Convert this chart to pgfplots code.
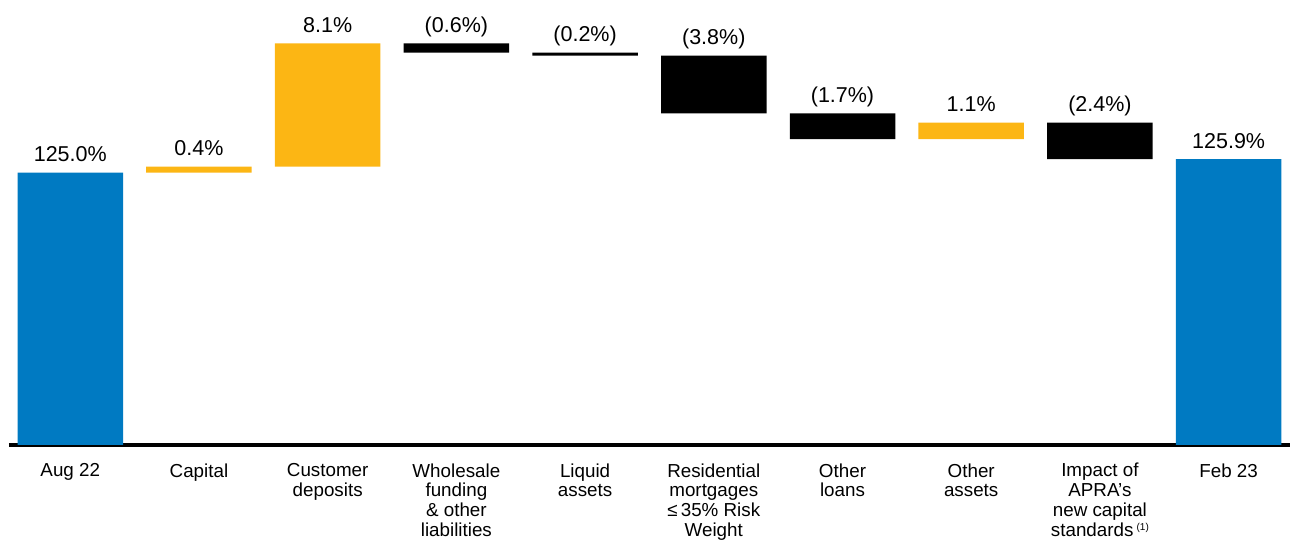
\documentclass[border=0pt]{standalone}
\usepackage{pgfplots}
\pgfplotsset{compat=1.18}
\usepackage{fontspec}
\setmainfont{Liberation Sans}
\definecolor{wblue}{RGB}{0,122,194}
\definecolor{wyellow}{RGB}{252,182,20}

\pgfplotstableread{
x base blue yellow black
0 0     125.0 0   0
1 125.0 0     0.4 0
2 125.4 0     8.1 0
3 132.9 0     0   0.6
4 132.7 0     0   0.2
5 128.9 0     0   3.8
6 127.2 0     0   1.7
7 127.2 0     1.1 0
8 125.9 0     0   2.4
9 0     125.9 0   0
}\wfdata

\begin{document}
\begin{tikzpicture}
\useasboundingbox (0,0) rectangle (645pt,270pt);
\clip (0,0) rectangle (645pt,270pt);
\pgfplotsset{
  geom/.style={
    at={(4.5pt,47.5pt)}, anchor=south west,
    scale only axis, width=640.5pt, height=222.5pt,
    xmin=-0.476, xmax=9.477, ymin=107.09, ymax=136.36,
  }
}
\begin{axis}[
  geom,
  ybar stacked, bar width=52.75pt,
  axis x line*=bottom, axis y line=none,
  x axis line style={line width=1.6pt, -},
  xtick={0,...,9},
  xticklabels={Aug 22, Capital, {Customer\\deposits}, {Wholesale\\funding\\\& other\\liabilities}, {Liquid\\assets}, {Residential\\mortgages\\≤\,35\% Risk\\Weight}, {Other\\loans}, {Other\\assets}, {Impact of\\APRA’s\\new capital\\standards\,\raisebox{0.55ex}{\fontsize{5}{5}\selectfont(1)}}, Feb 23},
  major tick length=0pt,
  xticklabel style={align=center, font=\fontsize{9.4}{9.85}\selectfont, anchor=north, inner sep=0pt, yshift=-9.0pt},
  ytick=\empty,
]
\addplot[draw=none, fill=none] table[x=x, y=base] {\wfdata};
\addplot[draw=none, fill=wblue] table[x=x, y=blue] {\wfdata};
\addplot[draw=none, fill=wyellow] table[x=x, y=yellow] {\wfdata};
\addplot[draw=none, fill=black] table[x=x, y=black] {\wfdata};
\end{axis}
\begin{axis}[
  geom, hide axis, clip=false,
  nodes near coords, point meta=explicit symbolic,
  nodes near coords style={font=\fontsize{10.75}{12}\selectfont, anchor=base, inner sep=0pt, yshift=5.5pt},
]
\addplot[draw=none, mark=none] table[x=x, y=y, meta=lab] {
x y lab
0 125.0 125.0\%
1 125.4 0.4\%
2 133.5 8.1\%
3 133.5 (0.6\%)
4 132.9 (0.2\%)
5 132.7 (3.8\%)
6 128.9 (1.7\%)
7 128.3 1.1\%
8 128.3 (2.4\%)
9 125.9 125.9\%
};
\end{axis}
\end{tikzpicture}
\end{document}
